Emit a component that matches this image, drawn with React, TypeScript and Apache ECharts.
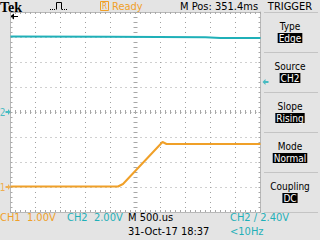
import React, { useEffect, useRef } from "react";
import * as echarts from "echarts";

const ch1Time = [0, 2.15, 2.25, 3.04, 3.12, 5];
const ch1Volts = [0.02, 0.02, 0.12, 1.8, 1.72, 1.72];
const ch2Time = [0, 2.0, 3.9, 4.2, 5];
const ch2Volts = [6.04, 6.02, 5.98, 5.92, 5.92];
const triggerLevel = 2.4;
const menuTitles = ["Type", "Source", "Slope", "Mode", "Coupling"];
const menuValues = ["Edge", "CH2", "Rising", "Normal", "DC"];

const ORANGE = "#f0a028";
const CYAN = "#1fb0b8";
const FONT = '"Liberation Sans Narrow", "DejaVu Sans Condensed", "Liberation Sans", sans-serif';

const tick = { show: true, inside: true, length: 2, lineStyle: { color: "#a8a8a8" } };
const minor = { show: true, splitNumber: 5, length: 2, lineStyle: { color: "#a8a8a8" } };

function xAx(position: string, offset: number, line: boolean, split: boolean) {
  return {
    type: "value", min: 0, max: 5, interval: 0.5, position, offset,
    axisLabel: { show: false },
    axisLine: { show: line, onZero: false, lineStyle: { color: "#b8b8b8" } },
    axisTick: tick, minorTick: minor,
    splitLine: { show: split, lineStyle: { color: "#a0a0a0", type: [1, 4] } },
  };
}
function yAx(position: string, offset: number, line: boolean, split: boolean) {
  return {
    type: "value", min: -8, max: 8, interval: 2, position, offset,
    axisLabel: { show: false },
    axisLine: { show: line, onZero: false, lineStyle: { color: "#b8b8b8" } },
    axisTick: tick, minorTick: minor,
    splitLine: { show: split, lineStyle: { color: "#a0a0a0", type: [1, 4] } },
  };
}

function txt(text: string, x: number, y: number, fill: string, size = 10, align = "left", extra: any = {}) {
  return {
    type: "text", x, y, silent: true,
    style: { text, fill, fontSize: size, fontFamily: FONT, textAlign: align, textVerticalAlign: "middle", ...extra },
  };
}

export default function App() {
  const ref = useRef<HTMLDivElement>(null);
  useEffect(() => {
    const chart = echarts.init(ref.current!, null, { renderer: "svg" });
    const graphics: any[] = [];
    graphics.push(txt("Tek", 0, 7, "#000", 14, "left", { fontFamily: '"Liberation Serif", "DejaVu Serif", serif', fontWeight: "bold" }));
    graphics.push({ type: "polyline", shape: { points: [[50, 9.5], [56, 9.5]] }, style: { stroke: "#000", lineWidth: 1, lineDash: [1, 1] } });
    graphics.push({ type: "polyline", shape: { points: [[56.5, 9.5], [56.5, 2.5], [61.5, 2.5], [61.5, 9.5]] }, style: { stroke: "#000", lineWidth: 1, fill: null } });
    graphics.push({ type: "polyline", shape: { points: [[62, 9.5], [68, 9.5]] }, style: { stroke: "#000", lineWidth: 1, lineDash: [1, 1] } });
    graphics.push({ type: "rect", shape: { x: 100.5, y: 1.5, width: 8, height: 9 }, style: { stroke: ORANGE, fill: null, lineWidth: 1 } });
    graphics.push(txt("R", 104.5, 6.5, ORANGE, 8, "center"));
    graphics.push(txt("Ready", 112, 6.5, ORANGE, 11));
    graphics.push(txt("M Pos: 351.4ms", 180, 6.5, "#000", 11));
    graphics.push(txt("TRIGGER", 290, 6.5, "#000", 11, "center"));
    graphics.push({ type: "line", shape: { x1: 264, y1: 12.5, x2: 318, y2: 12.5 }, style: { stroke: "#c4c4c4", lineWidth: 1 } });
    // trigger position arrow (off-screen left)
    graphics.push({ type: "line", shape: { x1: 11, y1: 16.5, x2: 18, y2: 16.5 }, style: { stroke: "#000", lineWidth: 1 } });
    graphics.push({ type: "polygon", shape: { points: [[10, 16.5], [14, 13.5], [14, 19.5]] }, style: { fill: "#000" } });
    menuTitles.forEach((t, i) => {
      graphics.push(txt(t, 290, 26 + i * 40, "#000", 10, "center"));
      graphics.push(txt(menuValues[i], 290, 38 + i * 40, "#fff", 10, "center", { backgroundColor: "#000", padding: [0, 1, 0, 1] }));
      graphics.push({ type: "line", shape: { x1: 264, y1: 52.5 + i * 40, x2: 318, y2: 52.5 + i * 40 }, style: { stroke: "#c4c4c4", lineWidth: 1 } });
    });
    graphics.push(txt("CH1  1.00V", 0, 217, ORANGE, 11));
    graphics.push(txt("CH2  2.00V", 67, 217, CYAN, 11));
    graphics.push(txt("M 500.us", 128, 217, "#000", 11));
    graphics.push(txt("31-Oct-17 18:37", 128, 231, "#000", 11));
    graphics.push(txt("CH2 ∕ 2.40V", 230, 217, CYAN, 11));
    graphics.push(txt("<10Hz", 230, 231, CYAN, 11));

    const arrowR = "path://M0,2H3V0L6,3L3,6V4H0Z";
    const arrowL = "path://M6,2H3V0L0,3L3,6V4H6Z";
    chart.setOption({
      animation: false,
      backgroundColor: "#e4e4e4",
      grid: { left: 10.5, top: 12, width: 250, height: 200, show: true, backgroundColor: "#ffffff", borderWidth: 0 },
      xAxis: [
        xAx("bottom", 0, true, true),
        xAx("top", 0, true, false),
        xAx("bottom", -100, false, false),
        xAx("top", -100, false, false),
      ],
      yAxis: [
        { type: "value", min: -1, max: 7, interval: 1, show: false },
        yAx("left", 0, true, true),
        yAx("right", 0, true, false),
        yAx("left", -125, false, false),
        yAx("right", -125, false, false),
      ],
      graphic: graphics,
      series: [
        {
          type: "line", xAxisIndex: 0, yAxisIndex: 1, symbol: "none",
          data: ch2Time.map((t, i) => [t, ch2Volts[i]]),
          lineStyle: { color: CYAN, width: 2 },
        },
        {
          type: "line", xAxisIndex: 0, yAxisIndex: 0, symbol: "none",
          data: ch1Time.map((t, i) => [t, ch1Volts[i]]),
          lineStyle: { color: ORANGE, width: 2 },
        },
        {
          type: "scatter", xAxisIndex: 0, yAxisIndex: 1, clip: false,
          symbol: arrowR, symbolSize: [5, 6], symbolOffset: [-2.5, 0],
          itemStyle: { color: CYAN },
          label: { show: true, position: "left", formatter: "2", color: CYAN, fontSize: 10, fontFamily: FONT, distance: 0 },
          data: [[0, 0]],
        },
        {
          type: "scatter", xAxisIndex: 0, yAxisIndex: 0, clip: false,
          symbol: arrowR, symbolSize: [5, 6], symbolOffset: [-2.5, 0],
          itemStyle: { color: ORANGE },
          label: { show: true, position: "left", formatter: "1", color: ORANGE, fontSize: 10, fontFamily: FONT, distance: 0 },
          data: [[0, 0]],
        },
        {
          type: "scatter", xAxisIndex: 0, yAxisIndex: 1, clip: false,
          symbol: arrowL, symbolSize: [6, 6], symbolOffset: [5, 0],
          itemStyle: { color: CYAN },
          data: [[5, triggerLevel]],
        },
      ],
    });
    return () => chart.dispose();
  }, []);
  return <div ref={ref} style={{ position: "fixed", left: 0, top: 0, width: 320, height: 240 }} />;
}
